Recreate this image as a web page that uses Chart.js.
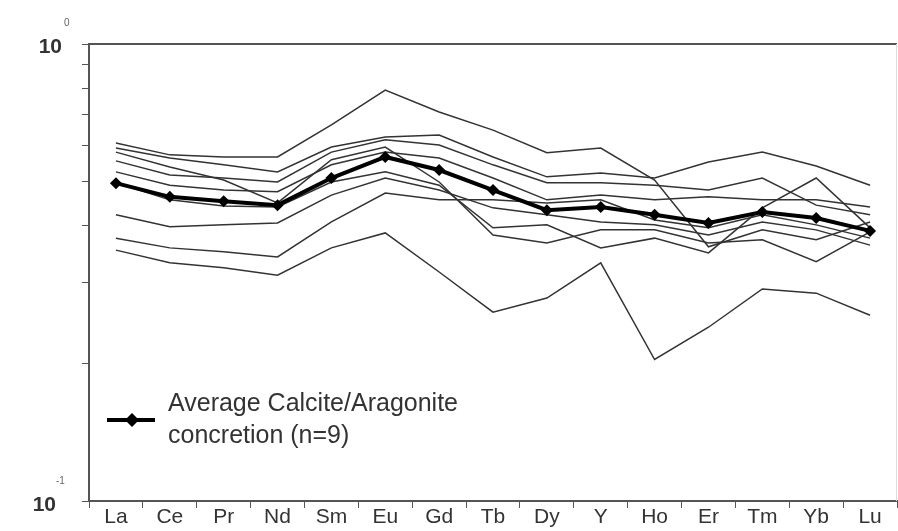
<!DOCTYPE html>
<html>
<head>
<meta charset="utf-8">
<script src="https://cdn.jsdelivr.net/npm/chart.js@4/dist/chart.umd.min.js"></script>
<style>
  html, body { margin: 0; padding: 0; background: #fff; }
  #wrap { width: 898px; height: 531px; position: relative; }
</style>
</head>
<body>
<div id="wrap"><canvas id="ree"></canvas></div>
<script>
// REE elements along the x axis
const elements = ['La', 'Ce', 'Pr', 'Nd', 'Sm', 'Eu', 'Gd', 'Tb', 'Dy', 'Y', 'Ho', 'Er', 'Tm', 'Yb', 'Lu'];

// average of the 9 concretions (thick line with diamonds)
const average = [0.496, 0.463, 0.453, 0.444, 0.509, 0.566, 0.530, 0.479, 0.433, 0.440, 0.423, 0.406, 0.429, 0.416, 0.390];

// single samples (thin lines)
const sample1 = [0.607, 0.572, 0.566, 0.566, 0.665, 0.793, 0.710, 0.648, 0.578, 0.592, 0.504, 0.360, 0.392, 0.373, 0.408];
const sample2 = [0.580, 0.538, 0.504, 0.449, 0.558, 0.595, 0.499, 0.382, 0.367, 0.392, 0.392, 0.367, 0.373, 0.334, 0.388];
const sample3 = [0.555, 0.517, 0.509, 0.499, 0.580, 0.617, 0.601, 0.544, 0.497, 0.497, 0.491, 0.479, 0.509, 0.444, 0.423];
const sample4 = [0.497, 0.456, 0.442, 0.440, 0.499, 0.525, 0.491, 0.396, 0.402, 0.358, 0.376, 0.349, 0.438, 0.509, 0.396];
const sample5 = [0.423, 0.398, 0.402, 0.406, 0.467, 0.509, 0.479, 0.438, 0.423, 0.408, 0.402, 0.382, 0.408, 0.392, 0.363];
const sample6 = [0.376, 0.358, 0.351, 0.342, 0.408, 0.472, 0.456, 0.456, 0.449, 0.456, 0.412, 0.396, 0.423, 0.402, 0.376];
const sample7 = [0.354, 0.332, 0.324, 0.312, 0.358, 0.386, 0.317, 0.259, 0.278, 0.332, 0.204, 0.240, 0.291, 0.285, 0.255];
const sample8 = [0.592, 0.563, 0.544, 0.525, 0.595, 0.626, 0.632, 0.566, 0.512, 0.522, 0.509, 0.552, 0.580, 0.541, 0.491];
const sample9 = [0.525, 0.491, 0.479, 0.475, 0.544, 0.580, 0.563, 0.509, 0.456, 0.467, 0.456, 0.463, 0.456, 0.456, 0.440];

const samples = [sample1, sample2, sample3, sample4, sample5, sample6, sample7, sample8, sample9];

// y tick positions (log decade 0.1 - 1)
const yTicks = [0.1, 0.2, 0.3, 0.4, 0.5, 0.6, 0.7, 0.8, 0.9, 1];
const legendText = ['Average Calcite/Aragonite', 'concretion (n=9)'];

const fontFam = '"Liberation Sans", Arial, sans-serif';

// average first so it is drawn on top
const datasets = [{
    label: 'Average Calcite/Aragonite concretion (n=9)',
    data: average,
    borderColor: '#000',
    backgroundColor: '#000',
    borderWidth: 4,
    pointStyle: 'rectRot',
    pointRadius: 6,
    pointBorderWidth: 0,
    tension: 0
}];
samples.forEach(function (s, i) {
    datasets.push({
        label: 'sample ' + (i + 1),
        data: s,
        borderColor: '#333',
        borderWidth: 1.5,
        pointRadius: 0,
        tension: 0
    });
});

// axis labels 10^0 / 10^-1, frame and the legend box
const decor = {
    id: 'decor',
    afterDraw: function (chart) {
        const ctx = chart.ctx;
        const a = chart.chartArea;
        const y = chart.scales.y;
        ctx.save();
        // top frame line and right edge
        ctx.strokeStyle = '#555';
        ctx.lineWidth = 2;
        ctx.beginPath();
        ctx.moveTo(a.left - 1, a.top);
        ctx.lineTo(a.right, a.top);
        ctx.stroke();
        ctx.strokeStyle = '#ddd';
        ctx.lineWidth = 1;
        ctx.beginPath();
        ctx.moveTo(a.right - 0.5, a.top);
        ctx.lineTo(a.right - 0.5, a.bottom);
        ctx.stroke();

        // powers of ten
        ctx.fillStyle = '#333';
        ctx.textBaseline = 'middle';
        ctx.textAlign = 'right';
        ctx.font = 'bold 21px ' + fontFam;
        const yTop = y.getPixelForValue(1);
        const yBot = y.getPixelForValue(0.1);
        ctx.fillText('10', 62, yTop + 3);
        ctx.fillText('10', 56, yBot + 4);
        ctx.textAlign = 'left';
        ctx.font = '10px ' + fontFam;
        ctx.fillStyle = '#666';
        ctx.fillText('0', 64, yTop - 21);
        ctx.fillText('-1', 56, yBot - 20);

        // legend
        const lx = 107, ly = 420;
        ctx.strokeStyle = '#000';
        ctx.lineWidth = 4;
        ctx.beginPath();
        ctx.moveTo(lx, ly);
        ctx.lineTo(lx + 48, ly);
        ctx.stroke();
        ctx.fillStyle = '#000';
        ctx.beginPath();
        ctx.moveTo(lx + 25, ly - 7);
        ctx.lineTo(lx + 32, ly);
        ctx.lineTo(lx + 25, ly + 7);
        ctx.lineTo(lx + 18, ly);
        ctx.closePath();
        ctx.fill();
        ctx.fillStyle = '#333';
        ctx.font = '25px ' + fontFam;
        ctx.textAlign = 'left';
        ctx.fillText(legendText[0], 168, 404);
        ctx.fillText(legendText[1], 168, 436);
        ctx.restore();
    }
};

new Chart(document.getElementById('ree'), {
    type: 'line',
    data: { labels: elements, datasets: datasets },
    options: {
        responsive: true,
        maintainAspectRatio: false,
        animation: false,
        layout: { autoPadding: false, padding: { top: 44, right: 1, left: 0, bottom: 0 } },
        plugins: {
            legend: { display: false },
            tooltip: { enabled: false }
        },
        scales: {
            x: {
                type: 'category',
                offset: true,
                afterFit: function (s) {
                    s.height = 30;
                    s.paddingLeft = 0;
                    s.paddingRight = 0;
                },
                grid: {
                    offset: true,
                    drawOnChartArea: false,
                    tickLength: 7,
                    color: '#555',
                    lineWidth: 1
                },
                border: { display: true, color: '#555', width: 2 },
                ticks: {
                    color: '#333',
                    padding: -3,
                    maxRotation: 0,
                    autoSkip: false,
                    font: { family: fontFam, size: 21 }
                }
            },
            y: {
                type: 'logarithmic',
                min: 0.1,
                max: 1,
                afterBuildTicks: function (s) {
                    s.ticks = yTicks.map(function (v) { return { value: v }; });
                },
                afterFit: function (s) {
                    s.width = 89;
                    s.paddingTop = 0;
                    s.paddingBottom = 0;
                },
                grid: {
                    drawOnChartArea: false,
                    tickLength: 7,
                    color: '#555',
                    lineWidth: 1
                },
                border: { display: true, color: '#555', width: 2 },
                ticks: {
                    callback: function () { return ''; },
                    autoSkip: false
                }
            }
        }
    },
    plugins: [decor]
});
</script>
</body>
</html>
